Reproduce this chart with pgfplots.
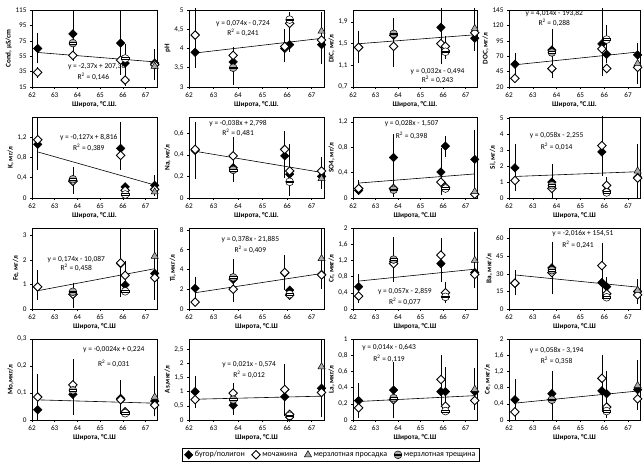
\documentclass[border=0pt]{standalone}
\usepackage{fontspec}
\setmainfont{Carlito}
\usepackage{pgfplots}
\pgfplotsset{compat=1.18}

\pgfdeclareplotmark{crack}{%
  \pgfpathcircle{\pgfpointorigin}{\pgfplotmarksize}%
  \pgfusepathqfillstroke
  \pgfpathrectangle{\pgfpoint{-0.95\pgfplotmarksize}{-0.22\pgfplotmarksize}}{\pgfpoint{1.9\pgfplotmarksize}{0.44\pgfplotmarksize}}%
  \pgfsetfillcolor{white}%
  \pgfusepathqfillstroke
}

\tikzset{eq/.style={font=\fontsize{7.5}{8}\selectfont, inner sep=0pt}}

\pgfplotsset{
  panel/.style={
    scale only axis, anchor=south west,
    xmin=62, xmax=67.5, xtick={62,63,64,65,66,67},
    tick align=outside, major tick length=2pt,
    xtick pos=left, ytick pos=left,
    axis line style={black, line width=0.5pt},
    tick style={black, line width=0.5pt},
    ticklabel style={font=\fontsize{7.2}{8}\selectfont},
    /pgf/number format/assume math mode=true,
    /pgf/number format/use comma,
    yticklabel style={/pgf/number format/fixed},
    label style={font=\bfseries\fontsize{7.2}{8}\selectfont},
    xlabel style={yshift=3pt},
    ylabel style={yshift=-3pt},
    clip=false,
    xlabel={Широта, °С.Ш.},
  },
  trend/.style={black, line width=0.6pt, forget plot},
  errs/.style={error bars/.cd, y dir=both, y explicit,
    error bar style={black, line width=0.5pt},
    error mark options={black, line width=0.5pt, mark size=1.7pt}},
  bug/.style={only marks, mark=square*, mark size=3.0pt,
    mark options={rotate=45, fill=black, draw=black, line width=0.5pt}, errs},
  moch/.style={only marks, mark=square*, mark size=3.0pt,
    mark options={rotate=45, fill=white, draw=black, line width=0.9pt}, errs},
  pros/.style={only marks, mark=triangle*, mark size=4.1pt,
    mark options={fill=gray!65, draw=black, line width=0.5pt}, errs},
  crk/.style={only marks, mark=crack, mark size=3.9pt,
    mark options={fill=gray!65, draw=black, line width=0.5pt}, errs},
}

\begin{document}
\begin{tikzpicture}
\useasboundingbox (0,0) rectangle (643pt,462pt);

% ---------- Row 1 ----------
\begin{axis}[panel, at={(32pt,375pt)}, width=125pt, height=77pt,
  ymin=15, ymax=115, ytick={15,35,55,75,95,115}, ylabel={Cond, µS/cm}]
\addplot[trend] coordinates {(62.25,59.83) (67.4,47.62)};
\addplot[bug] coordinates {(62.25,65) += (0,18) -= (0,17) (63.8,84) += (0,28) -= (0,27) (65.9,72) += (0,41) -= (0,39) (66.1,46) += (0,14) -= (0,12) (67.4,46) += (0,16) -= (0,20)};
\addplot[moch] coordinates {(62.25,34) += (0,5) -= (0,5) (63.8,56) += (0,5) -= (0,5) (65.9,50) += (0,6) -= (0,6) (66.1,24) += (0,7) -= (0,5) (67.4,44) += (0,18) -= (0,18)};
\addplot[pros] coordinates {(67.4,42) += (0,10) -= (0,8)};
\addplot[crk] coordinates {(63.8,72) += (0,4) -= (0,4) (66.1,52) += (0,17) -= (0,10)};
\node[eq] at (axis cs:64.85,41) {y = -2,37x + 207,36};
\node[eq] at (axis cs:64.7,28) {R\textsuperscript{2} = 0,146};
\end{axis}

\begin{axis}[panel, at={(189pt,375pt)}, width=135pt, height=77pt,
  ymin=3, ymax=5, ytick={3,3.5,4,4.5,5}, ylabel={pH}]
\addplot[trend] coordinates {(62.25,3.8825) (67.4,4.2636)};
\addplot[bug] coordinates {(62.25,3.9) += (0,0.35) -= (0,0.35) (63.8,3.65) += (0,0.1) -= (0,0.1) (65.9,4.0) += (0,0.4) -= (0,0.3) (66.1,4.1) += (0,0.15) -= (0,0.15) (67.4,4.1) += (0,0.8) -= (0,0.45)};
\addplot[moch] coordinates {(62.25,4.35) += (0,0.65) -= (0,0.65) (63.8,3.82) += (0,0.18) -= (0,0.22) (65.9,4.05) += (0,0.4) -= (0,0.3) (66.1,4.65) += (0,0.25) -= (0,0.3) (67.4,4.22) += (0,0.65) -= (0,0.57)};
\addplot[pros] coordinates {(67.4,4.45) += (0,0.45) -= (0,0.35)};
\addplot[crk] coordinates {(63.8,3.5) += (0,0.3) -= (0,0.4) (66.1,4.75) += (0,0.15) -= (0,0.15)};
\node[eq] at (axis cs:64.2,4.64) {y = 0,074x - 0,724};
\node[eq] at (axis cs:64.2,4.42) {R\textsuperscript{2} = 0,241};
\end{axis}

\begin{axis}[panel, at={(353pt,375pt)}, width=124pt, height=77pt,
  ymin=0.7, ymax=2.12, ytick={0.7,1.1,1.5,1.9}, ylabel={DIC, мг/л}]
\addplot[trend] coordinates {(62.25,1.498) (67.4,1.6628)};
\addplot[bug] coordinates {(62.25,1.43) += (0,0.27) -= (0,0.26) (63.8,1.65) += (0,0.3) -= (0,0.3) (65.9,1.8) += (0,0.32) -= (0,0.65) (66.1,1.37) += (0,0.18) -= (0,0.12) (67.4,1.6) += (0,0.52) -= (0,0.2)};
\addplot[moch] coordinates {(62.25,1.43) += (0,0.28) -= (0,0.26) (63.8,1.45) += (0,0.35) -= (0,0.35) (65.9,1.5) += (0,0.3) -= (0,0.3) (66.1,1.45) += (0,0.15) -= (0,0.15) (67.4,1.7) += (0,0.4) -= (0,0.3)};
\addplot[pros] coordinates {(67.4,1.78) += (0,0.34) -= (0,0.28)};
\addplot[crk] coordinates {(63.8,1.68) += (0,0.14) -= (0,0.18) (66.1,1.35) += (0,0.1) -= (0,0.1)};
\node[eq] at (axis cs:65.75,0.99) {y = 0,032x - 0,494};
\node[eq] at (axis cs:65.75,0.84) {R\textsuperscript{2} = 0,243};
\end{axis}

\begin{axis}[panel, at={(509pt,375pt)}, width=131pt, height=77pt,
  ymin=20, ymax=145, ytick={20,45,70,95,120,145}, ylabel={DOC, мг/л}]
\addplot[trend] coordinates {(62.25,56.05) (67.4,76.72)};
\addplot[bug] coordinates {(62.25,57) += (0,15) -= (0,15) (63.8,80) += (0,15) -= (0,18) (65.9,90) += (0,55) -= (0,50) (66.1,73) += (0,12) -= (0,12) (67.4,72) += (0,16) -= (0,14)};
\addplot[moch] coordinates {(62.25,34) += (0,0) -= (0,0) (63.8,50) += (0,12) -= (0,13) (65.9,82) += (0,20) -= (0,20) (66.1,50) += (0,5) -= (0,5) (67.4,52) += (0,33) -= (0,24)};
\addplot[pros] coordinates {(67.4,58) += (0,25) -= (0,15)};
\addplot[crk] coordinates {(63.8,76) += (0,36) -= (0,11) (66.1,97) += (0,21) -= (0,17)};
\node[eq] at (axis cs:63.9,139) {y = 4,014x - 193,82};
\node[eq] at (axis cs:63.9,124) {R\textsuperscript{2} = 0,288};
\end{axis}

% ---------- Row 2 ----------
\begin{axis}[panel, at={(32pt,264pt)}, width=125pt, height=81pt,
  ymin=0, ymax=1.6, ytick={0,0.4,0.8,1.2}, ylabel={K, мг/л}]
\addplot[trend] coordinates {(62.25,0.9103) (67.4,0.2562)};
\addplot[bug] coordinates {(62.25,1.06) += (0,0.36) -= (0,0.48) (63.8,0.35) += (0,0.15) -= (0,0.15) (65.9,0.98) += (0,0.48) -= (0,0.38) (66.1,0.22) += (0,0.05) -= (0,0.05) (67.4,0.25) += (0,0.17) -= (0,0.15)};
\addplot[moch] coordinates {(62.25,1.15) += (0,0.42) -= (0,0.25) (63.8,0.33) += (0,0.25) -= (0,0.21) (65.9,0.84) += (0,0.2) -= (0,0.25) (66.1,0.15) += (0,0.05) -= (0,0.05) (67.4,0.17) += (0,0.1) -= (0,0.08)};
\addplot[pros] coordinates {(67.4,0.12) += (0,0.08) -= (0,0.05)};
\addplot[crk] coordinates {(63.8,0.37) += (0,0.12) -= (0,0.12) (66.1,0.07) += (0,0.03) -= (0,0.03)};
\node[eq] at (axis cs:64.5,1.19) {y = -0,127x + 8,816};
\node[eq] at (axis cs:64.5,1.0) {R\textsuperscript{2} = 0,389};
\end{axis}

\begin{axis}[panel, at={(189pt,264pt)}, width=135pt, height=81pt,
  ymin=0, ymax=0.75, ytick={0,0.2,0.4,0.6}, ylabel={Na, мг/л}]
\addplot[trend] coordinates {(62.25,0.4325) (67.4,0.2368)};
\addplot[bug] coordinates {(62.25,0.44) += (0,0.25) -= (0,0.25) (63.8,0.28) += (0,0.05) -= (0,0.05) (65.9,0.39) += (0,0.21) -= (0,0.19) (66.1,0.22) += (0,0.06) -= (0,0.06) (67.4,0.2) += (0,0.05) -= (0,0.05)};
\addplot[moch] coordinates {(62.25,0.45) += (0,0.24) -= (0,0.1) (63.8,0.39) += (0,0.16) -= (0,0.23) (65.9,0.45) += (0,0.15) -= (0,0.15) (66.1,0.25) += (0,0.23) -= (0,0.07) (67.4,0.25) += (0,0.11) -= (0,0.1)};
\addplot[pros] coordinates {(67.4,0.18) += (0,0.1) -= (0,0.08)};
\addplot[crk] coordinates {(63.8,0.26) += (0,0.04) -= (0,0.04) (66.1,0.15) += (0,0.15) -= (0,0.12)};
\node[eq] at (axis cs:64.0,0.69) {y = -0,038x + 2,798};
\node[eq] at (axis cs:64.0,0.6) {R\textsuperscript{2} = 0,481};
\end{axis}

\begin{axis}[panel, at={(353pt,264pt)}, width=124pt, height=81pt,
  ymin=0, ymax=1.28, ytick={0,0.4,0.8,1.2}, ylabel={SO4, мг/л}, xlabel={Широта, °С.Ш}]
\addplot[trend] coordinates {(62.25,0.236) (67.4,0.3802)};
\addplot[bug] coordinates {(62.25,0.12) += (0,0.03) -= (0,0.03) (63.8,0.64) += (0,0.34) -= (0,0.34) (65.9,0.41) += (0,0.35) -= (0,0.33) (66.1,0.82) += (0,0.14) -= (0,0.14) (67.4,0.61) += (0,0.44) -= (0,0.41)};
\addplot[moch] coordinates {(62.25,0.15) += (0,0.1) -= (0,0.07) (63.8,0.15) += (0,0.1) -= (0,0.1) (65.9,0.25) += (0,0.05) -= (0,0.05) (66.1,0.17) += (0,0.05) -= (0,0.05) (67.4,0.06) += (0,0.15) -= (0,0.03)};
\addplot[pros] coordinates {(67.4,0.1) += (0,0.12) -= (0,0.05)};
\addplot[crk] coordinates {(63.8,0.13) += (0,0.03) -= (0,0.03) (66.1,0.15) += (0,0.04) -= (0,0.04)};
\node[eq] at (axis cs:64.6,1.17) {y = 0,028x - 1,507};
\node[eq] at (axis cs:64.6,0.99) {R\textsuperscript{2} = 0,398};
\end{axis}

\begin{axis}[panel, at={(509pt,264pt)}, width=131pt, height=81pt,
  ymin=0, ymax=5.1, ytick={0,1,2,3,4,5}, ylabel={Si, мг/л}, xlabel={Широта, °С.Ш}]
\addplot[trend] coordinates {(62.25,1.3555) (67.4,1.6542)};
\addplot[bug] coordinates {(62.25,1.9) += (0,1.4) -= (0,1.3) (63.8,1.0) += (0,1.05) -= (0,0.95) (65.9,2.9) += (0,1.45) -= (0,1.4) (66.1,0.45) += (0,0.1) -= (0,0.1) (67.4,1.3) += (0,2.0) -= (0,1.1)};
\addplot[moch] coordinates {(62.25,1.1) += (0,0.4) -= (0,0.55) (63.8,0.6) += (0,0.3) -= (0,0.3) (65.9,3.3) += (0,1.75) -= (0,1.8) (66.1,0.8) += (0,0.4) -= (0,0.3) (67.4,1.25) += (0,1.25) -= (0,1.15)};
\addplot[pros] coordinates {(67.4,1.7) += (0,1.6) -= (0,1.6)};
\addplot[crk] coordinates {(63.8,0.8) += (0,0.2) -= (0,0.2) (66.1,0.35) += (0,0.1) -= (0,0.1)};
\node[eq] at (axis cs:64.0,3.94) {y = 0,058x - 2,255};
\node[eq] at (axis cs:64.0,3.2) {R\textsuperscript{2} = 0,014};
\end{axis}

% ---------- Row 3 ----------
\begin{axis}[panel, at={(32pt,153pt)}, width=125pt, height=81pt,
  ymin=0, ymax=3.3, ytick={0,1,2,3}, ylabel={Fe, мг/л}, xlabel={Широта, °С.Ш}]
\addplot[trend] coordinates {(62.25,0.7445) (67.4,1.6406)};
\addplot[bug] coordinates {(62.25,0.9) += (0,0.1) -= (0,0.1) (63.8,0.6) += (0,0.1) -= (0,0.1) (65.9,1.85) += (0,1.15) -= (0,1.0) (66.1,0.98) += (0,0.15) -= (0,0.15) (67.4,1.45) += (0,0.95) -= (0,1.0)};
\addplot[moch] coordinates {(62.25,0.9) += (0,0.6) -= (0,0.45) (63.8,0.6) += (0,0.4) -= (0,0.5) (65.9,1.88) += (0,1.37) -= (0,1.33) (66.1,1.37) += (0,0.53) -= (0,0.57) (67.4,1.27) += (0,0.83) -= (0,0.82)};
\addplot[pros] coordinates {(67.4,2.15) += (0,1.0) -= (0,1.05)};
\addplot[crk] coordinates {(63.8,0.7) += (0,0.2) -= (0,0.2) (66.1,0.72) += (0,0.1) -= (0,0.1)};
\node[eq] at (axis cs:63.95,2.01) {y = 0,174x - 10,087};
\node[eq] at (axis cs:63.95,1.68) {R\textsuperscript{2} = 0,458};
\end{axis}

\begin{axis}[panel, at={(189pt,153pt)}, width=135pt, height=81pt,
  ymin=0, ymax=8.2, ytick={0,2,4,6,8}, ylabel={Ti, мкг/л}, xlabel={Широта, °С.Ш}]
\addplot[trend] coordinates {(62.25,1.6455) (67.4,3.5922)};
\addplot[bug] coordinates {(62.25,2.1) += (0,1.0) -= (0,0.9) (63.8,3.0) += (0,1.0) -= (0,1.0) (65.9,3.65) += (0,0.3) -= (0,0.3) (66.1,1.9) += (0,0.3) -= (0,0.3) (67.4,3.5) += (0,0.5) -= (0,0.5)};
\addplot[moch] coordinates {(62.25,0.7) += (0,0.1) -= (0,0.1) (63.8,2.0) += (0,1.2) -= (0,1.1) (65.9,3.7) += (0,1.6) -= (0,1.6) (66.1,1.4) += (0,0.3) -= (0,0.3) (67.4,3.45) += (0,1.15) -= (0,1.25)};
\addplot[pros] coordinates {(67.4,5.1) += (0,2.8) -= (0,2.6)};
\addplot[crk] coordinates {(63.8,3.2) += (0,1.7) -= (0,0.6) (66.1,1.5) += (0,0.3) -= (0,0.3)};
\node[eq] at (axis cs:64.5,7.0) {y = 0,378x - 21,885};
\node[eq] at (axis cs:64.5,6.0) {R\textsuperscript{2} = 0,409};
\end{axis}

\begin{axis}[panel, at={(353pt,153pt)}, width=124pt, height=81pt,
  ymin=0, ymax=2, ytick={0,0.4,0.8,1.2,1.6,2}, ylabel={Cr, мкг/л}, xlabel={Широта, °С.Ш}]
\addplot[trend] coordinates {(62.25,0.68925) (67.4,0.9828)};
\addplot[bug] coordinates {(62.25,0.55) += (0,0.27) -= (0,0.25) (63.8,1.17) += (0,0.3) -= (0,0.3) (65.9,1.12) += (0,0.4) -= (0,0.4) (66.1,0.3) += (0,0.05) -= (0,0.05) (67.4,0.9) += (0,0.2) -= (0,0.2)};
\addplot[moch] coordinates {(62.25,0.32) += (0,0.13) -= (0,0.12) (63.8,1.12) += (0,0.36) -= (0,0.34) (65.9,1.33) += (0,0.39) -= (0,0.4) (66.1,0.4) += (0,0.22) -= (0,0.2) (67.4,0.85) += (0,0.45) -= (0,0.3)};
\addplot[pros] coordinates {(67.4,1.2) += (0,0.67) -= (0,0.6)};
\addplot[crk] coordinates {(63.8,1.22) += (0,0.51) -= (0,0.52) (66.1,0.3) += (0,0.05) -= (0,0.05)};
\node[eq] at (axis cs:64.3,0.42) {y = 0,057x - 2,859};
\node[eq] at (axis cs:64.3,0.19) {R\textsuperscript{2} = 0,077};
\end{axis}

\begin{axis}[panel, at={(509pt,153pt)}, width=131pt, height=81pt,
  ymin=0, ymax=69, ytick={0,15,30,45,60}, ylabel={Ba, мкг/л}, xlabel={Широта, °С.Ш}]
\addplot[trend] coordinates {(62.25,29.014) (67.4,18.6316)};
\addplot[bug] coordinates {(62.25,22) += (0,0) -= (0,0) (63.8,35) += (0,21) -= (0,20) (65.9,22.5) += (0,3) -= (0,3) (66.1,19) += (0,7) -= (0,5) (67.4,15) += (0,8) -= (0,5)};
\addplot[moch] coordinates {(62.25,22) += (0,10) -= (0,9) (63.8,31) += (0,24) -= (0,17) (65.9,37) += (0,18) -= (0,27) (66.1,13) += (0,3) -= (0,3) (67.4,12) += (0,10) -= (0,6)};
\addplot[pros] coordinates {(67.4,16) += (0,8) -= (0,6)};
\addplot[crk] coordinates {(63.8,33) += (0,5) -= (0,5) (66.1,10) += (0,2) -= (0,2)};
\node[eq] at (axis cs:65.1,64) {y = -2,016x + 154,51};
\node[eq] at (axis cs:64.9,55) {R\textsuperscript{2} = 0,241};
\end{axis}

% ---------- Row 4 ----------
\begin{axis}[panel, at={(32pt,42pt)}, width=125pt, height=81pt,
  ymin=0, ymax=0.3, ytick={0,0.1,0.2,0.3}, ylabel={Mo,мкг/л}, xlabel={Широта, °С.Ш},
  legend columns=4,
  legend style={at={(2.392,-0.43)}, anchor=center, draw=black, line width=0.5pt,
    font=\fontsize{8}{9}\selectfont, inner xsep=2pt, inner ysep=1pt,
    /tikz/every even column/.append style={column sep=5pt}},
  legend cell align=left]
\addplot[trend] coordinates {(62.25,0.0746) (67.4,0.06224)};
\addplot[bug] coordinates {(62.25,0.038) += (0,0.03) -= (0,0.033) (63.8,0.095) += (0,0.06) -= (0,0.06) (65.9,0.08) += (0,0.03) -= (0,0.03) (66.1,0.03) += (0,0.005) -= (0,0.005) (67.4,0.07) += (0,0.085) -= (0,0.05)};
\addlegendentry{бугор/полигон}
\addplot[moch] coordinates {(62.25,0.085) += (0,0.078) -= (0,0.08) (63.8,0.13) += (0,0.09) -= (0,0.105) (65.9,0.075) += (0,0.065) -= (0,0.045) (66.1,0.03) += (0,0.008) -= (0,0.008) (67.4,0.055) += (0,0.035) -= (0,0.035)};
\addlegendentry{мочажина}
\addplot[pros] coordinates {(67.4,0.085) += (0,0.07) -= (0,0.055)};
\addlegendentry{мерзлотная просадка}
\addplot[crk] coordinates {(63.8,0.11) += (0,0.01) -= (0,0.01) (66.1,0.025) += (0,0.005) -= (0,0.005)};
\addlegendentry{мерзлотная трещина}
\node[eq] at (axis cs:65.6,0.26) {y = -0,0024x + 0,224};
\node[eq] at (axis cs:65.6,0.21) {R\textsuperscript{2} = 0,031};
\end{axis}

\begin{axis}[panel, at={(189pt,42pt)}, width=135pt, height=81pt,
  ymin=0, ymax=2.86, ytick={0,0.5,1,1.5,2,2.5}, ylabel={As,мкг/л}, xlabel={Широта, °С.Ш}]
\addplot[trend] coordinates {(62.25,0.73325) (67.4,0.8414)};
\addplot[bug] coordinates {(62.25,1.0) += (0,0.48) -= (0,0.45) (63.8,0.52) += (0,0.28) -= (0,0.27) (65.9,0.82) += (0,0.6) -= (0,0.62) (66.1,0.1) += (0,0.05) -= (0,0.05) (67.4,1.12) += (0,1.0) -= (0,0.6)};
\addplot[moch] coordinates {(62.25,0.72) += (0,0.23) -= (0,0.22) (63.8,0.95) += (0,0.3) -= (0,0.25) (65.9,1.08) += (0,0.84) -= (0,0.83) (66.1,0.2) += (0,0.05) -= (0,0.05) (67.4,0.97) += (0,1.13) -= (0,0.82)};
\addplot[pros] coordinates {(67.4,1.88) += (0,0.9) -= (0,0.93)};
\addplot[crk] coordinates {(63.8,0.72) += (0,0.1) -= (0,0.1) (66.1,0.15) += (0,0.05) -= (0,0.05)};
\node[eq] at (axis cs:64.45,1.95) {y = 0,021x - 0,574};
\node[eq] at (axis cs:64.45,1.6) {R\textsuperscript{2} = 0,012};
\end{axis}

\begin{axis}[panel, at={(353pt,42pt)}, width=124pt, height=81pt,
  ymin=0, ymax=1, ytick={0,0.2,0.4,0.6,0.8,1}, ylabel={La, мкг/л}, xlabel={Широта, °С.Ш}]
\addplot[trend] coordinates {(62.25,0.2285) (67.4,0.3006)};
\addplot[bug] coordinates {(62.25,0.24) += (0,0.19) -= (0,0.19) (63.8,0.37) += (0,0.32) -= (0,0.33) (65.9,0.35) += (0,0.2) -= (0,0.15) (66.1,0.35) += (0,0.28) -= (0,0.2) (67.4,0.35) += (0,0.27) -= (0,0.18)};
\addplot[moch] coordinates {(62.25,0.15) += (0,0.1) -= (0,0.1) (63.8,0.25) += (0,0.1) -= (0,0.2) (65.9,0.5) += (0,0.28) -= (0,0.28) (66.1,0.17) += (0,0.05) -= (0,0.05) (67.4,0.24) += (0,0.11) -= (0,0.09)};
\addplot[pros] coordinates {(67.4,0.38) += (0,0.24) -= (0,0.23)};
\addplot[crk] coordinates {(63.8,0.27) += (0,0.05) -= (0,0.05) (66.1,0.11) += (0,0.03) -= (0,0.03)};
\node[eq] at (axis cs:63.6,0.89) {y = 0,014x - 0,643};
\node[eq] at (axis cs:63.6,0.75) {R\textsuperscript{2} = 0,119};
\end{axis}

\begin{axis}[panel, at={(509pt,42pt)}, width=131pt, height=81pt,
  ymin=0, ymax=2, ytick={0,0.4,0.8,1.2,1.6,2}, ylabel={Ce, мкг/л}, xlabel={Широта, °С.Ш}]
\addplot[trend] coordinates {(62.25,0.4165) (67.4,0.7152)};
\addplot[bug] coordinates {(62.25,0.5) += (0,0.47) -= (0,0.45) (63.8,0.65) += (0,0.52) -= (0,0.3) (65.9,0.72) += (0,0.48) -= (0,0.47) (66.1,0.65) += (0,0.53) -= (0,0.55) (67.4,0.75) += (0,0.7) -= (0,0.45)};
\addplot[moch] coordinates {(62.25,0.2) += (0,0.15) -= (0,0.15) (63.8,0.5) += (0,0.45) -= (0,0.45) (65.9,1.03) += (0,0.54) -= (0,0.53) (66.1,0.32) += (0,0.1) -= (0,0.1) (67.4,0.52) += (0,0.28) -= (0,0.22)};
\addplot[pros] coordinates {(67.4,0.85) += (0,0.25) -= (0,0.35)};
\addplot[crk] coordinates {(63.8,0.5) += (0,0.05) -= (0,0.05) (66.1,0.22) += (0,0.05) -= (0,0.05)};
\node[eq] at (axis cs:64.0,1.72) {y = 0,058x - 3,194};
\node[eq] at (axis cs:64.0,1.46) {R\textsuperscript{2} = 0,358};
\end{axis}

\end{tikzpicture}
\end{document}
